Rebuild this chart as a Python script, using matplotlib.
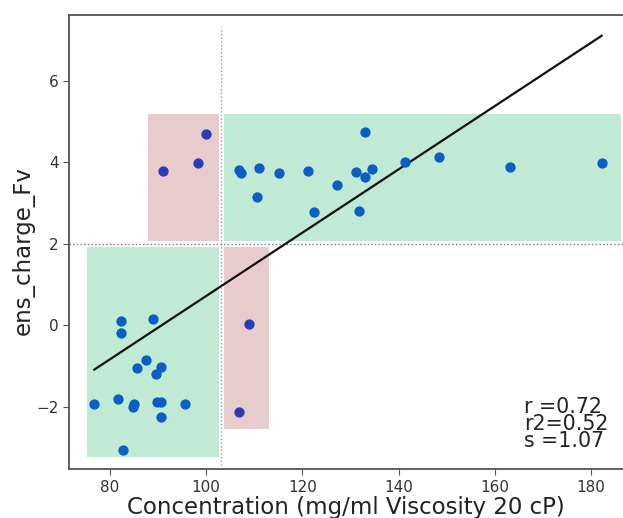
import matplotlib
matplotlib.use("Agg")
import matplotlib.pyplot as plt
from matplotlib.patches import Rectangle

# points inside the green regions
in_x = [106.97, 107.18, 111.06, 110.7, 115.27, 121.22, 127.24, 122.46, 131.18,
        132.98, 132.98, 134.43, 131.87, 141.41, 148.47, 163.2, 182.16,
        82.43, 82.43, 89.07, 87.55, 85.6, 90.73, 89.54, 76.83, 81.66, 85.06,
        84.77, 89.83, 90.73, 95.7, 90.73, 82.85]
in_y = [3.82, 3.75, 3.87, 3.16, 3.74, 3.80, 3.44, 2.78, 3.77,
        4.74, 3.65, 3.84, 2.81, 4.00, 4.13, 3.89, 3.99,
        0.10, -0.19, 0.16, -0.86, -1.04, -1.02, -1.21, -1.93, -1.82, -1.93,
        -2.01, -1.88, -1.88, -1.94, -2.25, -3.06]

# points in the pink (off) regions
off_x = [100.06, 91.14, 98.26, 108.92, 106.77]
off_y = [4.70, 3.80, 3.98, 0.03, -2.14]

# fitted line end points
fit_x = [76.83, 182.16]
fit_y = [-1.09, 7.11]

x_cut = 103.2
y_cut = 2.0

# regions: (x0, x1, y0, y1)
green_boxes = [(75.3, 102.8, -3.24, 1.93), (103.7, 186.1, 2.07, 5.18)]
pink_boxes = [(88.0, 102.8, 2.07, 5.18), (103.7, 113.0, -2.56, 1.93)]

stats = "r =0.72\nr2=0.52\ns =1.07"

fig = plt.figure(figsize=(6.23, 5.18), dpi=100)
ax = fig.add_axes([0.111, 0.094, 0.889, 0.877])

for x0, x1, y0, y1 in green_boxes:
    ax.add_patch(Rectangle((x0, y0), x1 - x0, y1 - y0, color="#c0ead3", lw=0, zorder=1))
for x0, x1, y0, y1 in pink_boxes:
    ax.add_patch(Rectangle((x0, y0), x1 - x0, y1 - y0, color="#e7cccb", lw=0, zorder=1))

ax.axvline(x_cut, ymax=0.974, color="#999999", ls=":", lw=1, zorder=2)
ax.axhline(y_cut, color="#777777", ls=":", lw=1, zorder=2)

ax.plot(fit_x, fit_y, color="#111111", lw=1.6, zorder=3)
ax.scatter(in_x, in_y, s=55, color="#0a5fc4", zorder=4, linewidths=0)
ax.scatter(off_x, off_y, s=55, color="#2a3db5", zorder=4, linewidths=0)

ax.text(0.822, 0.04, stats, transform=ax.transAxes, fontsize=14.8,
        linespacing=0.82, va="bottom", ha="left", color="#222222")

ax.set_xlim(71.6, 186.6)
ax.set_ylim(-3.54, 7.62)
ax.set_xticks([80, 100, 120, 140, 160, 180])
ax.set_yticks([-2, 0, 2, 4, 6])
ax.set_xlabel("Concentration (mg/ml Viscosity 20 cP)", fontsize=16.5, color="#222222", labelpad=1)
ax.set_ylabel("ens_charge_Fv", fontsize=16.5, color="#222222", labelpad=1)
ax.yaxis.label.set_y(0.482)
ax.tick_params(labelsize=11, colors="#555555", labelcolor="#333333", length=4)
ax.spines["right"].set_visible(False)
for s in ["left", "bottom", "top"]:
    ax.spines[s].set_color("#555555")
    ax.spines[s].set_linewidth(1.3)

fig.savefig("out.png", dpi=100)
